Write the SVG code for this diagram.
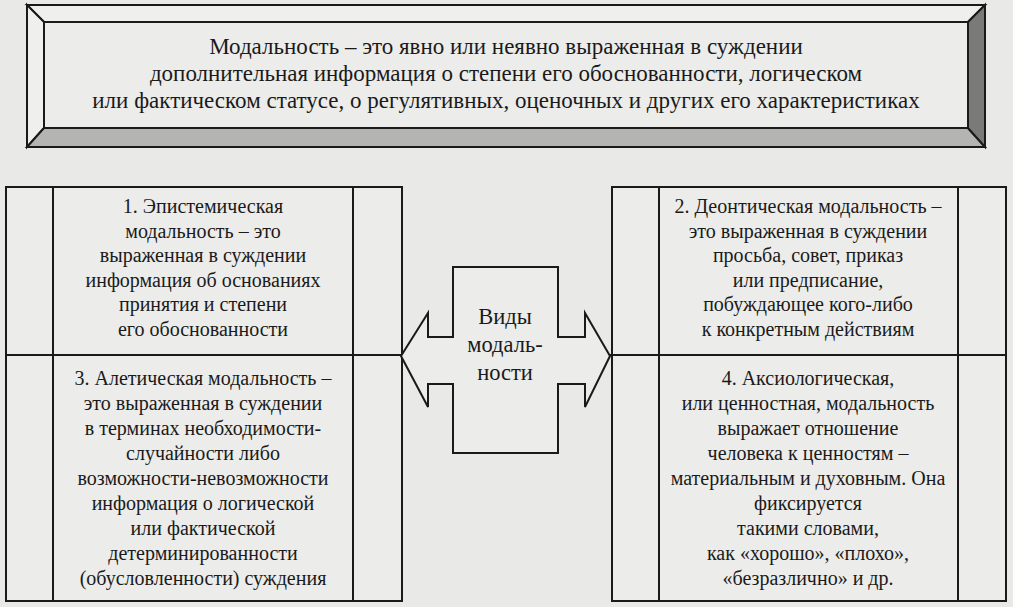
<svg xmlns="http://www.w3.org/2000/svg" width="1013" height="607" viewBox="0 0 1013 607" font-family="Liberation Serif, DejaVu Serif, serif">
<style>
text{font-size:20px;fill:#1a1a1a;text-anchor:middle}
text.h{font-size:23px}
text.c{font-size:22.5px}
.ln{fill:none;stroke:#1a1a1a;stroke-width:2}
.bx{fill:#ececea;stroke:#1a1a1a;stroke-width:2}
</style>
<rect width="1013" height="607" fill="#e9e9e7"/>
<g id="definition">
<polygon points="27,5 985,5 968,22 44,22" fill="#efefed" stroke="#1a1a1a" stroke-width="2"/>
<polygon points="27,5 44,22 44,128 27,147" fill="#efefed" stroke="#1a1a1a" stroke-width="2"/>
<polygon points="27,147 44,128 968,128 985,147" fill="#b4b4b2" stroke="#1a1a1a" stroke-width="2"/>
<polygon points="985,5 985,147 968,128 968,22" fill="#7a7a78" stroke="#1a1a1a" stroke-width="2"/>
<rect x="44" y="22" width="924" height="106" class="bx"/>
<text class="h" x="506" y="54">Модальность – это явно или неявно выраженная в суждении</text>
<text class="h" x="506" y="81">дополнительная информация о степени его обоснованности, логическом</text>
<text class="h" x="506" y="108">или фактическом статусе, о регулятивных, оценочных и других его характеристиках</text>
</g>
<g id="left-frame">
<rect x="6" y="187" width="396" height="414" class="bx"/>
<line x1="53" y1="187" x2="53" y2="601" class="ln"/>
<line x1="353" y1="187" x2="353" y2="601" class="ln"/>
</g>
<g id="right-frame">
<rect x="612" y="187" width="394" height="414" class="bx"/>
<line x1="659" y1="187" x2="659" y2="601" class="ln"/>
<line x1="958" y1="187" x2="958" y2="601" class="ln"/>
</g>
<g id="connectors">
<line x1="6" y1="355" x2="401" y2="355" class="ln"/>
<line x1="610" y1="355" x2="1006" y2="355" class="ln"/>
</g>
<g id="box1">
<text x="203" y="213">1. Эпистемическая</text>
<text x="203" y="237.6">модальность – это</text>
<text x="203" y="262.2">выраженная в суждении</text>
<text x="203" y="286.8">информация об основаниях</text>
<text x="203" y="311.4">принятия и степени</text>
<text x="203" y="336">его обоснованности</text>
</g>
<g id="box2">
<text x="808" y="213">2. Деонтическая модальность –</text>
<text x="808" y="237.6">это выраженная в суждении</text>
<text x="808" y="262.2">просьба, совет, приказ</text>
<text x="808" y="286.8">или предписание,</text>
<text x="808" y="311.4">побуждающее кого-либо</text>
<text x="808" y="336">к конкретным действиям</text>
</g>
<g id="box3">
<text x="203" y="385">3. Алетическая модальность –</text>
<text x="203" y="410">это выраженная в суждении</text>
<text x="203" y="435">в терминах необходимости-</text>
<text x="203" y="460">случайности либо</text>
<text x="203" y="485">возможности-невозможности</text>
<text x="203" y="510">информация о логической</text>
<text x="203" y="535">или фактической</text>
<text x="203" y="560">детерминированности</text>
<text x="203" y="585">(обусловленности) суждения</text>
</g>
<g id="box4">
<text x="808" y="385">4. Аксиологическая,</text>
<text x="808" y="410">или ценностная, модальность</text>
<text x="808" y="435">выражает отношение</text>
<text x="808" y="460">человека к ценностям –</text>
<text x="808" y="485">материальным и духовным. Она</text>
<text x="808" y="510">фиксируется</text>
<text x="808" y="535">такими словами,</text>
<text x="808" y="560">как «хорошо», «плохо»,</text>
<text x="808" y="585">«безразлично» и др.</text>
</g>
<g id="center">
<polygon points="453,267 558,267 558,337 585,337 585,313 610,356 585,407 585,384 558,384 558,453 453,453 453,384 428,384 428,407 401,356 428,313 428,337 453,337" fill="#ececea" stroke="#1a1a1a" stroke-width="2"/>
<text class="c" x="505" y="324">Виды</text>
<text class="c" x="505" y="352">модаль-</text>
<text class="c" x="505" y="380">ности</text>
</g>
</svg>
